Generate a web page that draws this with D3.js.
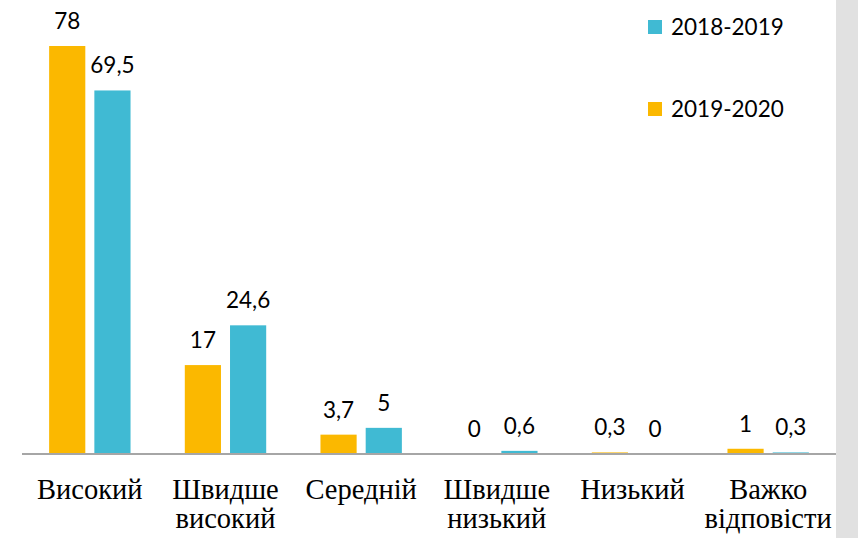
<!DOCTYPE html>
<html><head><meta charset="utf-8">
<script src="https://cdn.jsdelivr.net/npm/d3@7"></script>
<style>body{margin:0;background:#fff;}svg{display:block;}</style>
</head><body>
<script>
const categories = [["Високий"],["Швидше","високий"],["Середній"],["Швидше","низький"],["Низький"],["Важко","відповісти"]];
const seriesNames = ["2019-2020","2018-2019"];
const values2019_2020 = [78, 17, 3.7, 0, 0.3, 1];
const values2018_2019 = [69.5, 24.6, 5, 0.6, 0, 0.3];
const colors = ["#FBB800","#40BAD3"];
const legendOrder = ["2018-2019","2019-2020"];

const W = 858, H = 538;
const svg = d3.select("body").append("svg").attr("width", W).attr("height", H);
svg.append("rect").attr("x", 836).attr("y", 0).attr("width", 22).attr("height", H).attr("fill", "#e1e1e1");

const x0 = d3.scaleBand().domain(d3.range(categories.length)).range([22, 836]).paddingInner(0.4).paddingOuter(0.2);
const x1 = d3.scaleBand().domain(seriesNames).range([0, x0.bandwidth()]).paddingInner(0.2);
const y = d3.scaleLinear().domain([0, 78]).range([454, 46]);
const color = d3.scaleOrdinal().domain(seriesNames).range(colors);

const data = categories.map((c, i) => ({i, vals: [
  {s: seriesNames[0], v: values2019_2020[i]},
  {s: seriesNames[1], v: values2018_2019[i]}]}));

const g = svg.selectAll("g.cat").data(data).enter().append("g")
  .attr("transform", d => `translate(${x0(d.i)},0)`);
g.selectAll("rect").data(d => d.vals).enter().append("rect")
  .attr("x", d => x1(d.s)).attr("width", x1.bandwidth())
  .attr("y", d => y(d.v)).attr("height", d => y(0) - y(d.v))
  .attr("fill", d => color(d.s));
g.selectAll("text").data(d => d.vals).enter().append("text")
  .attr("x", d => x1(d.s) + x1.bandwidth() / 2)
  .attr("y", d => y(d.v) - 17)
  .attr("text-anchor", "middle")
  .attr("font-family", "Lato, 'Open Sans', sans-serif")
  .attr("font-size", 22.5).attr("fill", "#000")
  .text(d => String(d.v).replace(".", ","));

// axis
const xAxis = d3.axisBottom(x0).tickSize(0).tickFormat("");
const ax = svg.append("g").attr("transform", `translate(0,${y(0)})`).call(xAxis);
ax.select(".domain").attr("stroke", "#a6a6a6").attr("stroke-width", 2).attr("d", "M22,0H836");

const labels = svg.selectAll("text.cat").data(categories).enter().append("text")
  .attr("class", "cat")
  .attr("x", (d, i) => x0(i) + x0.bandwidth() / 2)
  .attr("y", 499)
  .attr("text-anchor", "middle")
  .attr("font-family", "'Liberation Serif', 'Times New Roman', serif")
  .attr("font-size", 28.5).attr("fill", "#000");
labels.selectAll("tspan").data(d => d).enter().append("tspan")
  .attr("x", function() { return this.parentNode.getAttribute("x"); })
  .attr("dy", (d, i) => i === 0 ? 0 : 29)
  .text(d => d);

// legend
const leg = svg.selectAll("g.leg").data(legendOrder).enter().append("g")
  .attr("transform", (d, i) => `translate(648,${20 + i * 82})`);
leg.append("rect").attr("width", 14).attr("height", 14).attr("fill", d => color(d));
leg.append("text").attr("x", 23).attr("y", 15)
  .attr("font-family", "Lato, 'Open Sans', sans-serif").attr("font-size", 22.5).attr("fill", "#000")
  .text(d => d);
</script>
</body></html>
